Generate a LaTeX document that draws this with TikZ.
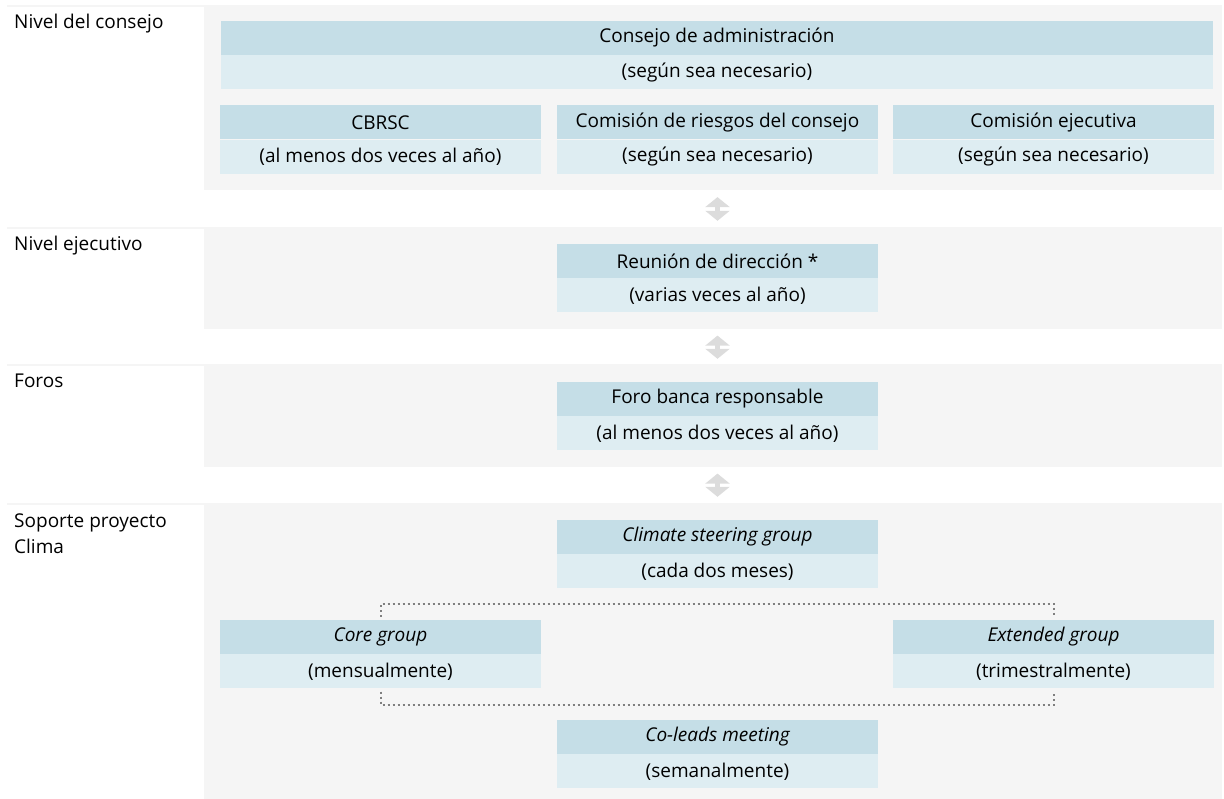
\documentclass[tikz,border=0pt]{standalone}
\usepackage{fontspec}
\setmainfont{Open Sans}
\usepackage{tikz}
\usetikzlibrary{arrows.meta,positioning}
\definecolor{headblue}{HTML}{C5DEE7}
\definecolor{subblue}{HTML}{DEEDF2}
\definecolor{bandgray}{HTML}{F5F5F5}
\definecolor{dotgray}{HTML}{7F7F7F}
\definecolor{arrowgray}{HTML}{DCDCDC}
\newcommand{\colw}{321pt}
\newcommand{\roww}{992pt}
\newcommand{\rowh}{34pt}
\newcommand{\txtfont}{\fontsize{19}{26}\selectfont}

\begin{document}
\begin{tikzpicture}[x=1pt,y=-1pt,
	head/.style={fill=headblue, minimum width=\colw, minimum height=\rowh, inner sep=0pt, font=\txtfont},
	sub/.style={head, fill=subblue},
	lvl/.style={anchor=base west, inner sep=0pt, align=left, font=\txtfont},
	updown/.style={arrowgray, line width=5pt, {Triangle[width=24pt,length=10pt]}-{Triangle[width=24pt,length=10pt]}, shorten <=23pt, shorten >=23pt},
	link/.style={dotgray, line width=2pt, dash pattern=on 2pt off 3pt, shorten <=3pt, shorten >=3pt}]
	
	\useasboundingbox (0,0) rectangle (1224,799);
	%\draw[help lines] (0,0) grid[step=50] (1224,799);
	% bands
	\foreach \t/\b in {5/190,227/329,364/467,503/799}{
		\fill[bandgray] (7,\t) rectangle (1222,\b);
		\fill[white] (7,\t+2) rectangle (204,\b);
	}
	\node[lvl] (lcons) at (14,29) {Nivel del consejo};
	\node[lvl] (lejec) at (14,251) {Nivel ejecutivo};
	\node[lvl] (lforo) at (14,388) {Foros};
	% base anchor sits on the last line here
	\node[lvl] (lclim) at (14,553) {Soporte proyecto\\Clima};
	
	% consejo
	\node[head, minimum width=\roww] (cons) at (717,38) {Consejo de administración};
	\node[sub, minimum width=\roww, below=0pt of cons] (consS) {(según sea necesario)};
	\node[head] (cbrsc) at (380.5,122.5) {CBRSC};
	\node[sub, below=0pt of cbrsc] (cbrscS) {(al menos dos veces al año)};
	\node[head] (ries) at (717.5,122.5) {Comisión de riesgos del consejo};
	\node[sub, below=0pt of ries] (riesS) {(según sea necesario)};
	\node[head] (ejec) at (1053.5,122.5) {Comisión ejecutiva};
	\node[sub, below=0pt of ejec] (ejecS) {(según sea necesario)};
	
	% ejecutivo
	\node[head] (reu) at (717.5,261) {Reunión de dirección *};
	\node[sub, below=0pt of reu] (reuS) {(varias veces al año)};
	
	% foros
	\node[head] (foro) at (717.5,399) {Foro banca responsable};
	\node[sub, below=0pt of foro] (foroS) {(al menos dos veces al año)};
	
	% clima
	\node[head] (csg) at (717.5,537) {\itshape Climate steering group};
	\node[sub, below=0pt of csg] (csgS) {(cada dos meses)};
	\node[head] (core) at (380.5,637) {\itshape Core group};
	\node[sub, below=0pt of core] (coreS) {(mensualmente)};
	\node[head] (ext) at (1053.5,637) {\itshape Extended group};
	\node[sub, below=0pt of ext] (extS) {(trimestralmente)};
	\node[head] (cold) at (717.5,737) {\itshape Co-leads meeting};
	\node[sub, below=0pt of cold] (coldS) {(semanalmente)};
	
	\draw[updown] (riesS) -- (reu);
	\draw[updown] (reuS) -- (foro);
	\draw[updown] (foroS) -- (csg);
	
	\draw[link] (core.north) -- ++(0,-16) -| (ext.north);
	\draw[link] (coreS.south) -- ++(0,16) -| (extS.south);
\end{tikzpicture}
\end{document}
